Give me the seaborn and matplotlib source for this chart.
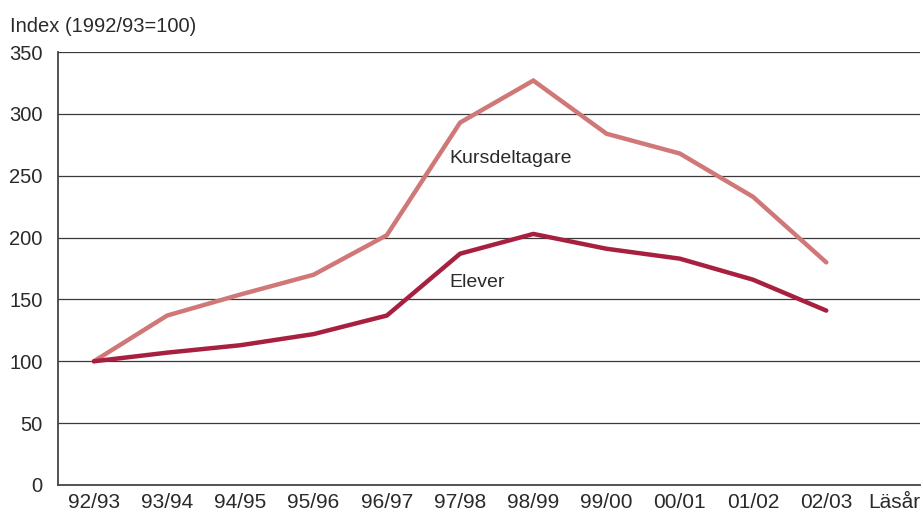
import matplotlib
matplotlib.use("Agg")
import matplotlib.pyplot as plt
import seaborn as sns
import pandas as pd

years = ["92/93", "93/94", "94/95", "95/96", "96/97", "97/98", "98/99", "99/00", "00/01", "01/02", "02/03"]
kursdeltagare = [100, 137, 154, 170, 202, 293, 327, 284, 268, 233, 180]
elever = [100, 107, 113, 122, 137, 187, 203, 191, 183, 166, 141]
yticks = [0, 50, 100, 150, 200, 250, 300, 350]
x_axis_title = "Läsår"

sns.set_style("white")
plt.rcParams['font.family'] = ['Liberation Sans', 'DejaVu Sans']

df = pd.DataFrame({
    "x": list(range(len(years))) * 2,
    "value": kursdeltagare + elever,
    "serie": ["Kursdeltagare"] * len(years) + ["Elever"] * len(years),
})

fig = plt.figure(figsize=(9.23, 5.16), dpi=100)
ax = fig.add_axes([0.0628, 0.0601, 0.9340, 0.8389])

for yv in yticks[1:]:
    ax.axhline(yv, color="#3a3a3a", lw=0.9, zorder=1)

sns.lineplot(data=df, x="x", y="value", hue="serie",
             palette={"Kursdeltagare": "#d07878", "Elever": "#a8203f"},
             linewidth=3.2, legend=False, ax=ax, zorder=3)
for l in ax.lines:
    l.set_solid_capstyle("round")
    l.set_solid_joinstyle("miter")

xmax = 11.28
ax.set_xlim(-0.49, xmax)
ax.set_ylim(0, 350)
ax.set_yticks(yticks)
ax.set_yticklabels([str(v) for v in yticks], fontsize=14.5, color="#2a2a2a")
ax.set_xticks(list(range(len(years))) + [xmax])
ax.set_xticklabels(years + [x_axis_title], fontsize=15, color="#2a2a2a")
ax.get_xticklabels()[-1].set_horizontalalignment("right")
ax.tick_params(axis="both", length=0)
ax.tick_params(axis="x", pad=6)
ax.tick_params(axis="y", pad=11)
ax.set_xlabel("")
ax.set_ylabel("")

for s in ["top", "right"]:
    ax.spines[s].set_visible(False)
for s in ["left", "bottom"]:
    ax.spines[s].set_color("#444444")
    ax.spines[s].set_linewidth(1.3)

ax.text(4.86, 264, "Kursdeltagare", fontsize=14, color="#2a2a2a", va="center", ha="left")
ax.text(4.86, 164, "Elever", fontsize=14, color="#2a2a2a", va="center", ha="left")

fig.text(10 / 923, 1 - 27 / 516, "Index (1992/93=100)", fontsize=14.5, color="#2a2a2a",
         va="center", ha="left")

fig.savefig("out.png", dpi=100)
